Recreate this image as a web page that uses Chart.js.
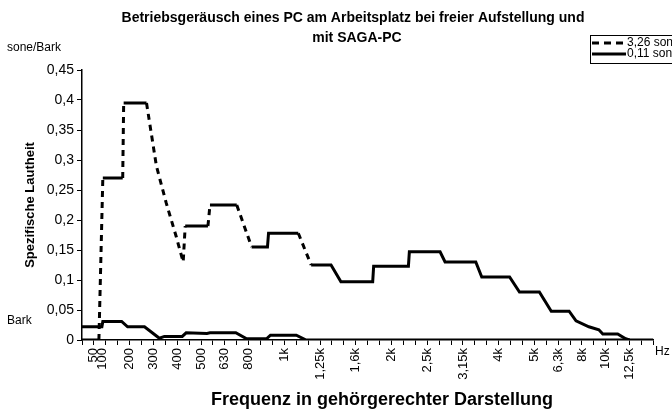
<!DOCTYPE html>
<html lang="de">
<head>
<meta charset="utf-8">
<title>Betriebsgeräusch eines PC</title>
<script src="https://cdn.jsdelivr.net/npm/chart.js@4.4.1/dist/chart.umd.min.js"></script>
<style>
  html, body { margin: 0; padding: 0; background: #fff; }
</style>
</head>
<body>
<canvas id="plot1" width="672" height="410"></canvas>
<script>
// Werte (x in Teilungen der Frequenzachse)
const barkFrei = [0, 1.42, 1.75, 3.42, 3.5, 5.42, 6.25, 7.08, 7.92, 8.5, 8.67, 10.58, 10.75, 13.0, 14.25, 15.58, 15.67, 18.17, 19.25, 20.92, 21.75, 24.42, 24.5, 27.42, 27.5, 30.08, 30.5, 33.08, 33.58, 35.92, 36.75, 38.42, 39.42, 40.92, 41.5, 42.58, 43.42, 43.75, 45.0, 45.67, 46];
const lautheitFrei = [0, 0, 0.27, 0.27, 0.395, 0.395, 0.29, 0.228, 0.172, 0.13, 0.19, 0.19, 0.225, 0.225, 0.155, 0.155, 0.178, 0.178, 0.125, 0.125, 0.097, 0.097, 0.123, 0.123, 0.147, 0.147, 0.13, 0.13, 0.105, 0.105, 0.08, 0.08, 0.048, 0.048, 0.032, 0.022, 0.017, 0.01, 0.01, 0.002, 0];

const barkSaga = [0, 1.67, 1.75, 3.33, 3.83, 5.25, 6.5, 6.92, 8.42, 8.75, 10.5, 10.75, 12.92, 13.83, 15.5, 15.83, 18.0, 18.83, 48];
const lautheitSaga = [0.022, 0.022, 0.031, 0.031, 0.022, 0.022, 0.003, 0.006, 0.006, 0.012, 0.011, 0.012, 0.012, 0.002, 0.002, 0.008, 0.008, 0, 0];

const serienNamen = ['3,26 sone', '0,11 sone'];

// Beschriftung der Frequenzachse
const tickPos = [1, 1.7, 4, 6, 8, 10, 12, 14, 17, 20, 23, 26, 29, 32, 35, 38, 40, 42, 44, 46];
const tickLabels = ['50', '100', '200', '300', '400', '500', '630', '800', '1k', '1,25k', '1,6k', '2k', '2,5k', '3,15k', '4k', '5k', '6,3k', '8k', '10k', '12,5k'];

const titel = ['Betriebsgeräusch eines PC am Arbeitsplatz bei freier Aufstellung und', 'mit SAGA-PC'];
const xTitel = 'Frequenz in gehörgerechter Darstellung';
const yTitel = 'Spezifische Lautheit';

const schrift = '"Liberation Sans", Arial, sans-serif';

let punkte = (xs, ys) => xs.map((x, i) => ({x: x, y: ys[i]}));

// Steile Abschnitte gestrichelt, waagerechte durchgezogen (wie im Original)
let strichel = (ctx) => Math.abs(ctx.p1.y - ctx.p0.y) > 20 ? [6, 5] : [];

// Zusätzliche Texte und Legende
let beschriftung = {
  id: 'beschriftung',
  afterDraw: (chart) => {
    let ctx = chart.ctx;
    ctx.save();
    ctx.fillStyle = '#000';
    ctx.textAlign = 'center';
    ctx.textBaseline = 'middle';
    ctx.font = 'bold 14px ' + schrift;
    ctx.fillText(titel[0], 353, 18);
    ctx.fillText(titel[1], 357, 38);
    ctx.font = 'bold 18px ' + schrift;
    ctx.fillText(xTitel, 382, 400);

    ctx.textAlign = 'left';
    ctx.font = '12px ' + schrift;
    ctx.fillText('sone/Bark', 7, 48);
    ctx.fillText('Bark', 7, 321);
    ctx.fillText('Hz', 655, 352);

    // Legende rechts oben
    ctx.strokeStyle = '#000';
    ctx.lineWidth = 1;
    ctx.strokeRect(590.5, 35.5, 100, 28);
    ctx.font = '12px ' + schrift;
    let zeilen = [43, 54];
    chart.data.datasets.forEach((ds, i) => {
      ctx.beginPath();
      ctx.lineWidth = 3;
      ctx.setLineDash(i === 0 ? [7, 5] : []);
      ctx.moveTo(592, zeilen[i]);
      ctx.lineTo(626, zeilen[i]);
      ctx.stroke();
      ctx.setLineDash([]);
      ctx.fillText(ds.label, 627, zeilen[i]);
    });
    ctx.restore();
  }
};

let plotRef = document.getElementById('plot1');

let config = {
  type: 'line',
  data: {
    datasets: [
      {
        label: serienNamen[0],
        data: punkte(barkFrei, lautheitFrei),
        borderColor: '#000',
        borderWidth: 3,
        pointRadius: 0,
        tension: 0,
        segment: { borderDash: strichel }
      },
      {
        label: serienNamen[1],
        data: punkte(barkSaga, lautheitSaga),
        borderColor: '#000',
        borderWidth: 3,
        pointRadius: 0,
        tension: 0
      }
    ]
  },
  options: {
    responsive: false,
    animation: false,
    layout: { padding: { top: 70, right: 14, left: 0, bottom: 0 } },
    plugins: {
      legend: { display: false },
      title: { display: false },
      tooltip: { enabled: false }
    },
    scales: {
      x: {
        type: 'linear',
        min: 0,
        max: 48,
        afterBuildTicks: (scale) => {
          let werte = [];
          for (let i = 0; i <= 48; i++) werte.push(i);
          werte.push(1.7);
          werte.sort((a, b) => a - b);
          scale.ticks = werte.map(v => ({value: v}));
        },
        afterFit: (scale) => { scale.height = 70; },
        ticks: {
          autoSkip: false,
          minRotation: 90,
          maxRotation: 90,
          padding: 3,
          color: '#000',
          font: { family: schrift, size: 13 },
          callback: (value) => {
            let idx = tickPos.indexOf(value);
            return idx >= 0 ? tickLabels[idx] : '';
          }
        },
        grid: {
          drawOnChartArea: false,
          tickLength: 5,
          tickColor: (ctx) => (ctx.tick && ctx.tick.value % 1 !== 0) ? 'rgba(0,0,0,0)' : '#000'
        },
        border: { color: '#000', width: 1.5 }
      },
      y: {
        min: 0,
        max: 0.45,
        afterFit: (scale) => { scale.width = 82; },
        ticks: {
          stepSize: 0.05,
          padding: 3,
          color: '#000',
          font: { family: schrift, size: 14 },
          callback: (v) => v.toFixed(2).replace(/0+$/, '').replace(/\.$/, '').replace('.', ',')
        },
        grid: {
          drawOnChartArea: false,
          tickLength: 5,
          tickColor: '#000'
        },
        border: { color: '#000', width: 1.5 },
        title: {
          display: true,
          text: yTitel,
          color: '#000',
          font: { family: schrift, size: 13, weight: 'bold' },
          padding: { top: 23, bottom: 0 }
        }
      }
    }
  },
  plugins: [beschriftung]
};

let chart1 = new Chart(plotRef, config);
</script>
</body>
</html>
